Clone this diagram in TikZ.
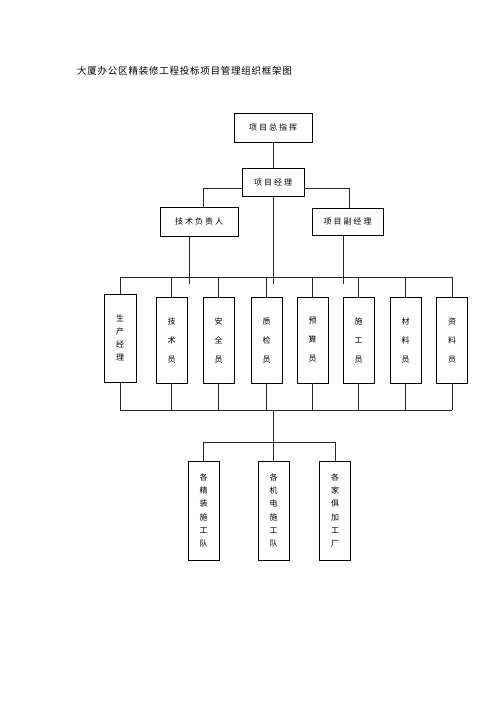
\documentclass[tikz,border=0pt]{standalone}
\usepackage{fontspec}
\newfontfamily\cjk[LetterSpace=25]{Noto Sans CJK SC}
\newfontfamily\cjkt[LetterSpace=8]{Noto Sans CJK SC}
\usetikzlibrary{positioning}

\tikzset{
  hbox/.style={draw, inner sep=0pt, font=\cjk\fontsize{8}{10}\selectfont},
  vcol/.style={draw, inner sep=0pt, minimum width=31, minimum height=86, align=center, font=\cjk\fontsize{8}{13}\selectfont},
  vcolw/.style={vcol, font=\cjk\fontsize{8}{19}\selectfont},
  team/.style={vcol, minimum height=99, font=\cjk\fontsize{8}{13.3}\selectfont},
  link/.style={black!85, line width=0.6pt}
}

\begin{document}
\begin{tikzpicture}[x=1pt, y=-1pt]
  \useasboundingbox (0,0) rectangle (500,707);
  \node[anchor=west, inner sep=0pt, font=\cjkt\fontsize{9.5}{11}\selectfont] (title) at (77,71) {大厦办公区精装修工程投标项目管理组织框架图};

  % upper levels
  \node[hbox, minimum width=78, minimum height=29] (chief) at (273,127.5) {项目总指挥};
  \node[hbox, minimum width=62, minimum height=28] (pm) at (273,182) {项目经理};
  \node[hbox, minimum width=78, minimum height=29] (tech) at (199,221.5) {技术负责人};
  \node[hbox, minimum width=71, minimum height=27] (vice) at (347.5,221.5) {项目副经理};

  \draw[link] (chief) -- (pm);
  \draw[link] ([yshift=-6pt]pm.west) -| ([xshift=4pt]tech.north);
  \draw[link] ([yshift=-6pt]pm.east) -| ([xshift=1.5pt]vice.north);

  % staff row
  \node[vcol, minimum width=32, minimum height=88] (m1) at (120,338) {生\\产\\经\\理};
  \foreach \n/\x/\t in {m2/171.5/{技\\术\\员}, m3/218.5/{安\\全\\员}, m4/266.5/{质\\检\\员},
      m5/312.5/{预\\算\\员}, m6/358.5/{施\\工\\员}, m7/405.5/{材\\料\\员}, m8/452/{资\\料\\员}}
    \node[vcolw] (\n) at (\x,340) {\t};

  \coordinate (busT) at (0,277);
  \coordinate (busTx) at (0,284);
  \coordinate (busB) at (0,410);
  \draw[link] (m1.north |- busT) -- (m8.north |- busT);
  \draw[link] ([xshift=-10pt]tech.south) -- ([xshift=-10pt]tech.south |- busTx);
  \draw[link] (pm.south) -- (pm.south |- busTx);
  \draw[link] ([xshift=-4.5pt]vice.south) -- ([xshift=-4.5pt]vice.south |- busTx);
  \foreach \n in {1,...,8} {
    \draw[link] (m\n.north) -- (m\n.north |- busT);
    \draw[link] (m\n.south) -- (m\n.south |- busB);
  }
  \draw[link] (m1.south |- busB) -- (m8.south |- busB);

  % teams
  \foreach \n/\x/\t in {t1/203.5/{各\\精\\装\\施\\工\\队}, t2/273.5/{各\\机\\电\\施\\工\\队}, t3/335/{各\\家\\俱\\加\\工\\厂}}
    \node[team] (\n) at (\x,510.5) {\t};

  \coordinate (busD) at (0,442);
  \draw[link] (t2.north |- busB) -- (t2.north);
  \draw[link] (t1.north) |- (t3.north |- busD) -- (t3.north);
\end{tikzpicture}
\end{document}
